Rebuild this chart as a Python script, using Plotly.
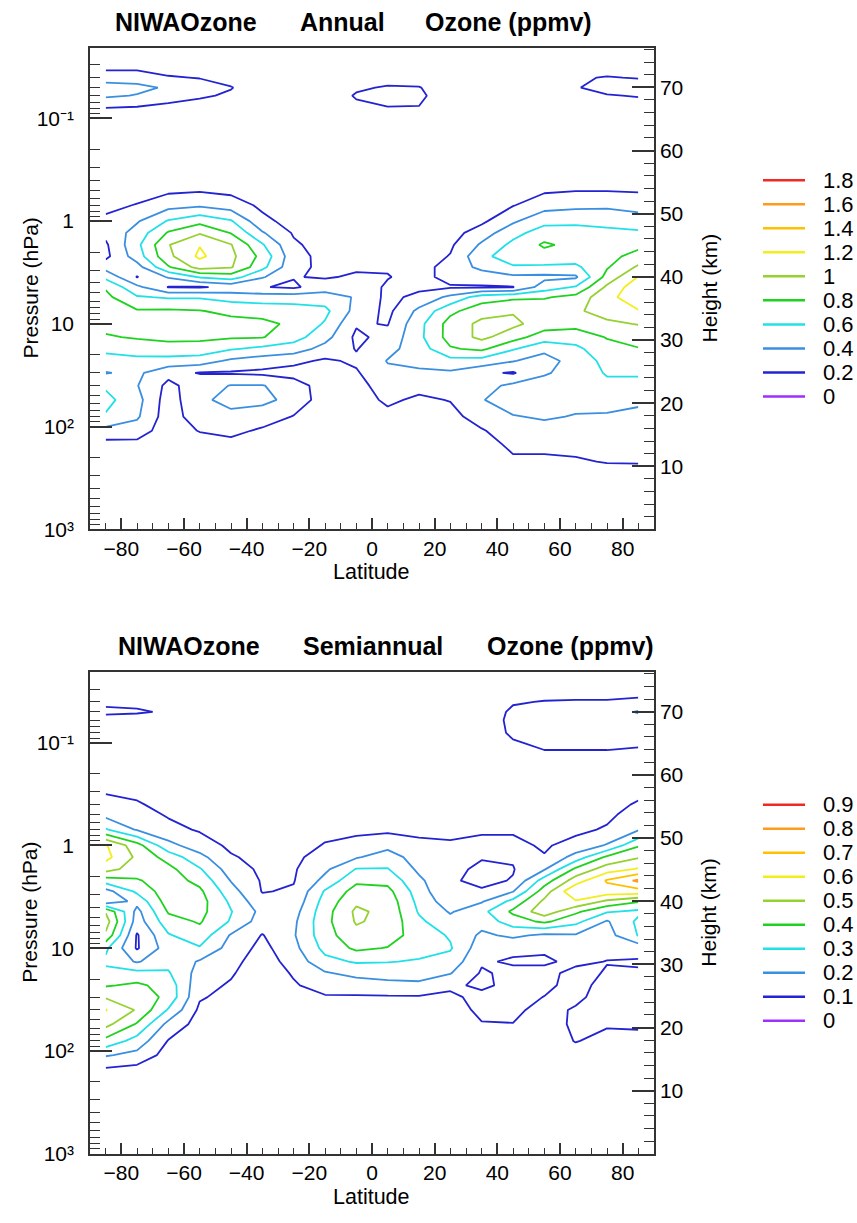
import numpy as np
import plotly.graph_objects as go

# ---------------- data ----------------
LAT = [-85, -75, -65, -55, -45, -35, -25, -15, -5, 5, 15, 25, 35, 45, 55, 65, 75, 85]
# pressure levels (hPa), top of the atmosphere first
PRESSURE = [0.02, 0.03, 0.04, 0.05, 0.06, 0.08, 0.1, 0.15, 0.25, 0.4, 0.5, 0.7, 1, 1.3, 1.7,
            2.2, 2.8, 3.5, 4.4, 5.5, 7.5, 10, 13.5, 17.5, 23, 30, 40, 55, 80, 110, 150, 220,
            300, 500, 1000]

# Annual amplitude (ppmv), one list per latitude, values top -> bottom
ANN_85S = [0.05, 0.1, 0.33, 0.47, 0.43, 0.19, 0.1, 0.06, 0.06, 0.08, 0.1, 0.15, 0.24, 0.25, 0.17, 0.15, 0.32, 0.55, 0.78, 0.85, 0.87, 0.86, 0.78, 0.65, 0.52, 0.39, 0.57, 0.66, 0.58, 0.33, 0.13, 0.07, 0.05, 0.03, 0.02]
ANN_75S = [0.05, 0.1, 0.33, 0.44, 0.39, 0.17, 0.09, 0.06, 0.06, 0.1, 0.12, 0.21, 0.38, 0.48, 0.55, 0.5, 0.32, 0.19, 0.45, 0.62, 0.82, 0.88, 0.82, 0.68, 0.55, 0.44, 0.41, 0.47, 0.43, 0.3, 0.14, 0.07, 0.05, 0.03, 0.02]
ANN_65S = [0.05, 0.08, 0.22, 0.38, 0.3, 0.13, 0.08, 0.06, 0.06, 0.1, 0.16, 0.33, 0.62, 0.82, 0.99, 0.95, 0.78, 0.42, 0.19, 0.58, 0.83, 0.9, 0.85, 0.72, 0.53, 0.26, 0.15, 0.1, 0.09, 0.09, 0.07, 0.05, 0.04, 0.03, 0.02]
ANN_55S = [0.05, 0.07, 0.19, 0.3, 0.23, 0.1, 0.07, 0.06, 0.07, 0.12, 0.18, 0.37, 0.74, 0.98, 1.19, 1.24, 1.08, 0.62, 0.18, 0.58, 0.81, 0.9, 0.84, 0.72, 0.5, 0.19, 0.3, 0.36, 0.32, 0.21, 0.1, 0.06, 0.04, 0.03, 0.02]
ANN_45S = [0.05, 0.06, 0.12, 0.21, 0.17, 0.08, 0.06, 0.06, 0.07, 0.11, 0.15, 0.3, 0.62, 0.79, 1.01, 1.05, 1.02, 0.7, 0.25, 0.52, 0.75, 0.87, 0.82, 0.62, 0.36, 0.18, 0.41, 0.46, 0.35, 0.25, 0.14, 0.07, 0.05, 0.03, 0.02]
ANN_35S = [0.05, 0.05, 0.06, 0.07, 0.07, 0.06, 0.06, 0.06, 0.07, 0.1, 0.12, 0.16, 0.25, 0.42, 0.62, 0.74, 0.66, 0.42, 0.21, 0.5, 0.72, 0.85, 0.81, 0.55, 0.3, 0.16, 0.41, 0.45, 0.3, 0.17, 0.1, 0.06, 0.04, 0.03, 0.02]
ANN_25S = [0.05, 0.05, 0.06, 0.06, 0.06, 0.06, 0.06, 0.06, 0.06, 0.08, 0.09, 0.1, 0.13, 0.18, 0.23, 0.27, 0.25, 0.21, 0.17, 0.5, 0.7, 0.76, 0.68, 0.5, 0.25, 0.12, 0.3, 0.34, 0.19, 0.1, 0.07, 0.05, 0.04, 0.03, 0.02]
ANN_15S = [0.05, 0.05, 0.06, 0.07, 0.07, 0.06, 0.06, 0.05, 0.06, 0.07, 0.07, 0.08, 0.09, 0.1, 0.12, 0.14, 0.16, 0.18, 0.3, 0.5, 0.65, 0.58, 0.47, 0.33, 0.17, 0.12, 0.1, 0.09, 0.08, 0.07, 0.06, 0.05, 0.04, 0.03, 0.02]
ANN_05S = [0.05, 0.06, 0.1, 0.17, 0.22, 0.15, 0.1, 0.07, 0.06, 0.06, 0.07, 0.08, 0.09, 0.1, 0.12, 0.14, 0.17, 0.23, 0.32, 0.38, 0.33, 0.22, 0.16, 0.19, 0.23, 0.18, 0.13, 0.1, 0.08, 0.07, 0.06, 0.05, 0.04, 0.03, 0.02]
ANN_05N = [0.05, 0.07, 0.12, 0.22, 0.26, 0.19, 0.12, 0.08, 0.06, 0.06, 0.07, 0.08, 0.09, 0.1, 0.11, 0.14, 0.18, 0.21, 0.17, 0.15, 0.15, 0.19, 0.26, 0.34, 0.41, 0.36, 0.3, 0.24, 0.14, 0.1, 0.07, 0.06, 0.04, 0.03, 0.02]
ANN_15N = [0.05, 0.06, 0.1, 0.21, 0.24, 0.19, 0.1, 0.07, 0.06, 0.06, 0.06, 0.07, 0.08, 0.09, 0.1, 0.11, 0.12, 0.13, 0.16, 0.25, 0.45, 0.54, 0.55, 0.5, 0.45, 0.37, 0.27, 0.16, 0.1, 0.08, 0.06, 0.05, 0.04, 0.03, 0.02]
ANN_25N = [0.05, 0.05, 0.06, 0.07, 0.08, 0.07, 0.06, 0.05, 0.05, 0.06, 0.06, 0.07, 0.09, 0.12, 0.17, 0.21, 0.28, 0.27, 0.18, 0.45, 0.75, 0.88, 0.88, 0.78, 0.53, 0.37, 0.28, 0.21, 0.13, 0.09, 0.07, 0.06, 0.04, 0.03, 0.02]
ANN_35N = [0.05, 0.05, 0.05, 0.06, 0.06, 0.06, 0.05, 0.05, 0.06, 0.07, 0.08, 0.11, 0.16, 0.3, 0.43, 0.55, 0.45, 0.3, 0.18, 0.7, 0.92, 1.05, 1.05, 0.84, 0.52, 0.24, 0.32, 0.39, 0.3, 0.18, 0.1, 0.07, 0.05, 0.03, 0.02]
ANN_45N = [0.05, 0.05, 0.05, 0.06, 0.06, 0.06, 0.05, 0.06, 0.08, 0.11, 0.14, 0.19, 0.37, 0.53, 0.65, 0.7, 0.58, 0.36, 0.19, 0.76, 0.98, 1.05, 0.88, 0.62, 0.41, 0.18, 0.45, 0.49, 0.39, 0.32, 0.25, 0.16, 0.1, 0.05, 0.03]
ANN_55N = [0.05, 0.05, 0.06, 0.06, 0.06, 0.06, 0.06, 0.07, 0.09, 0.13, 0.17, 0.32, 0.54, 0.7, 0.83, 0.72, 0.57, 0.35, 0.5, 0.78, 0.95, 0.9, 0.7, 0.45, 0.32, 0.38, 0.47, 0.5, 0.42, 0.34, 0.25, 0.16, 0.1, 0.05, 0.03]
ANN_65N = [0.05, 0.06, 0.18, 0.19, 0.15, 0.1, 0.07, 0.08, 0.1, 0.14, 0.19, 0.35, 0.56, 0.68, 0.74, 0.7, 0.56, 0.37, 0.62, 0.86, 0.97, 0.86, 0.7, 0.55, 0.48, 0.47, 0.47, 0.45, 0.39, 0.33, 0.25, 0.18, 0.1, 0.05, 0.03]
ANN_75N = [0.06, 0.1, 0.21, 0.25, 0.19, 0.12, 0.08, 0.07, 0.1, 0.15, 0.19, 0.36, 0.55, 0.64, 0.7, 0.73, 0.78, 0.87, 1.04, 1.15, 1.08, 0.96, 0.81, 0.74, 0.66, 0.62, 0.55, 0.47, 0.38, 0.32, 0.26, 0.21, 0.12, 0.06, 0.03]
ANN_85N = [0.07, 0.12, 0.19, 0.28, 0.21, 0.12, 0.08, 0.07, 0.1, 0.15, 0.18, 0.32, 0.5, 0.63, 0.74, 0.88, 1.03, 1.21, 1.33, 1.3, 1.19, 1.01, 0.88, 0.79, 0.7, 0.63, 0.53, 0.43, 0.36, 0.31, 0.26, 0.21, 0.14, 0.07, 0.03]

# Semiannual amplitude (ppmv)
SEMI_85S = [0.03, 0.05, 0.09, 0.11, 0.08, 0.06, 0.05, 0.05, 0.08, 0.12, 0.17, 0.31, 0.61, 0.63, 0.54, 0.35, 0.16, 0.13, 0.49, 0.55, 0.48, 0.32, 0.28, 0.33, 0.39, 0.49, 0.605, 0.53, 0.37, 0.21, 0.09, 0.05, 0.03, 0.02, 0.02]
SEMI_75S = [0.03, 0.05, 0.09, 0.105, 0.08, 0.06, 0.05, 0.05, 0.06, 0.11, 0.14, 0.19, 0.44, 0.48, 0.45, 0.39, 0.32, 0.23, 0.17, 0.15, 0.09, 0.09, 0.19, 0.33, 0.42, 0.47, 0.49, 0.39, 0.26, 0.17, 0.07, 0.04, 0.03, 0.02, 0.02]
SEMI_65S = [0.03, 0.04, 0.06, 0.095, 0.06, 0.05, 0.05, 0.05, 0.05, 0.07, 0.09, 0.13, 0.23, 0.36, 0.43, 0.45, 0.46, 0.45, 0.41, 0.36, 0.29, 0.25, 0.27, 0.31, 0.36, 0.37, 0.29, 0.17, 0.095, 0.06, 0.04, 0.03, 0.02, 0.02, 0.02]
SEMI_55S = [0.03, 0.03, 0.04, 0.05, 0.05, 0.05, 0.04, 0.04, 0.05, 0.06, 0.07, 0.09, 0.15, 0.23, 0.31, 0.37, 0.42, 0.44, 0.43, 0.41, 0.36, 0.29, 0.19, 0.16, 0.13, 0.11, 0.08, 0.06, 0.05, 0.04, 0.03, 0.03, 0.02, 0.02, 0.02]
SEMI_45S = [0.03, 0.03, 0.03, 0.04, 0.04, 0.04, 0.04, 0.04, 0.04, 0.05, 0.06, 0.07, 0.08, 0.11, 0.15, 0.195, 0.24, 0.28, 0.305, 0.29, 0.19, 0.16, 0.13, 0.11, 0.09, 0.07, 0.05, 0.04, 0.03, 0.03, 0.02, 0.02, 0.02, 0.02, 0.02]
SEMI_35S = [0.03, 0.03, 0.03, 0.03, 0.03, 0.03, 0.03, 0.03, 0.04, 0.04, 0.05, 0.05, 0.06, 0.07, 0.08, 0.09, 0.095, 0.13, 0.17, 0.15, 0.095, 0.07, 0.05, 0.04, 0.04, 0.03, 0.03, 0.03, 0.02, 0.02, 0.02, 0.02, 0.02, 0.02, 0.02]
SEMI_25S = [0.03, 0.03, 0.03, 0.03, 0.03, 0.03, 0.03, 0.03, 0.03, 0.04, 0.05, 0.06, 0.07, 0.08, 0.09, 0.095, 0.11, 0.13, 0.16, 0.18, 0.19, 0.17, 0.14, 0.11, 0.09, 0.07, 0.05, 0.04, 0.03, 0.02, 0.02, 0.02, 0.02, 0.02, 0.02]
SEMI_15S = [0.03, 0.03, 0.03, 0.03, 0.03, 0.03, 0.03, 0.03, 0.04, 0.05, 0.06, 0.08, 0.105, 0.14, 0.18, 0.23, 0.31, 0.34, 0.36, 0.37, 0.36, 0.33, 0.27, 0.19, 0.14, 0.09, 0.06, 0.04, 0.03, 0.02, 0.02, 0.02, 0.02, 0.02, 0.02]
SEMI_05S = [0.03, 0.03, 0.03, 0.03, 0.03, 0.03, 0.03, 0.03, 0.04, 0.05, 0.06, 0.08, 0.13, 0.19, 0.305, 0.38, 0.44, 0.48, 0.52, 0.51, 0.47, 0.42, 0.31, 0.23, 0.15, 0.09, 0.06, 0.04, 0.03, 0.02, 0.02, 0.02, 0.02, 0.02, 0.02]
SEMI_05N = [0.03, 0.03, 0.03, 0.03, 0.03, 0.03, 0.03, 0.03, 0.04, 0.05, 0.06, 0.08, 0.17, 0.25, 0.305, 0.37, 0.43, 0.46, 0.47, 0.47, 0.45, 0.395, 0.305, 0.24, 0.17, 0.09, 0.06, 0.04, 0.03, 0.02, 0.02, 0.02, 0.02, 0.02, 0.02]
SEMI_15N = [0.03, 0.03, 0.03, 0.03, 0.03, 0.03, 0.03, 0.03, 0.04, 0.05, 0.06, 0.08, 0.12, 0.15, 0.18, 0.22, 0.25, 0.27, 0.29, 0.32, 0.35, 0.34, 0.29, 0.24, 0.18, 0.09, 0.06, 0.04, 0.03, 0.02, 0.02, 0.02, 0.02, 0.02, 0.02]
SEMI_25N = [0.03, 0.03, 0.03, 0.03, 0.03, 0.03, 0.03, 0.03, 0.03, 0.05, 0.06, 0.08, 0.11, 0.13, 0.12, 0.11, 0.101, 0.14, 0.19, 0.23, 0.29, 0.31, 0.26, 0.205, 0.12, 0.08, 0.06, 0.04, 0.03, 0.02, 0.02, 0.02, 0.02, 0.02, 0.02]
SEMI_35N = [0.03, 0.03, 0.03, 0.03, 0.03, 0.03, 0.03, 0.04, 0.05, 0.07, 0.08, 0.095, 0.11, 0.105, 0.085, 0.08, 0.11, 0.19, 0.27, 0.24, 0.18, 0.14, 0.11, 0.09, 0.08, 0.13, 0.12, 0.095, 0.06, 0.04, 0.03, 0.02, 0.02, 0.02, 0.02]
SEMI_45N = [0.03, 0.04, 0.09, 0.12, 0.13, 0.12, 0.09, 0.06, 0.05, 0.06, 0.07, 0.09, 0.12, 0.11, 0.095, 0.105, 0.195, 0.33, 0.42, 0.35, 0.22, 0.12, 0.09, 0.12, 0.13, 0.13, 0.12, 0.098, 0.06, 0.04, 0.03, 0.02, 0.02, 0.02, 0.02]
SEMI_55N = [0.03, 0.05, 0.105, 0.14, 0.14, 0.13, 0.12, 0.07, 0.05, 0.06, 0.07, 0.08, 0.09, 0.105, 0.19, 0.35, 0.45, 0.52, 0.56, 0.42, 0.18, 0.11, 0.09, 0.12, 0.12, 0.098, 0.07, 0.05, 0.04, 0.03, 0.03, 0.02, 0.02, 0.02, 0.02]
SEMI_65N = [0.03, 0.05, 0.11, 0.14, 0.14, 0.13, 0.12, 0.07, 0.05, 0.06, 0.07, 0.08, 0.13, 0.24, 0.42, 0.55, 0.69, 0.59, 0.42, 0.33, 0.19, 0.14, 0.115, 0.08, 0.07, 0.08, 0.11, 0.12, 0.105, 0.06, 0.04, 0.03, 0.02, 0.02, 0.02]
SEMI_75N = [0.03, 0.05, 0.11, 0.14, 0.15, 0.14, 0.12, 0.07, 0.05, 0.07, 0.08, 0.11, 0.21, 0.42, 0.55, 0.71, 0.66, 0.48, 0.31, 0.19, 0.16, 0.12, 0.098, 0.105, 0.13, 0.14, 0.13, 0.11, 0.07, 0.05, 0.04, 0.03, 0.02, 0.02, 0.02]
SEMI_85N = [0.04, 0.06, 0.12, 0.21, 0.16, 0.13, 0.11, 0.07, 0.06, 0.11, 0.14, 0.19, 0.39, 0.49, 0.61, 0.82, 0.66, 0.41, 0.28, 0.32, 0.305, 0.14, 0.09, 0.11, 0.13, 0.13, 0.12, 0.11, 0.08, 0.05, 0.04, 0.03, 0.02, 0.02, 0.02]

ANNUAL = [ANN_85S, ANN_75S, ANN_65S, ANN_55S, ANN_45S, ANN_35S, ANN_25S, ANN_15S, ANN_05S,
          ANN_05N, ANN_15N, ANN_25N, ANN_35N, ANN_45N, ANN_55N, ANN_65N, ANN_75N, ANN_85N]
SEMIANNUAL = [SEMI_85S, SEMI_75S, SEMI_65S, SEMI_55S, SEMI_45S, SEMI_35S, SEMI_25S, SEMI_15S, SEMI_05S,
              SEMI_05N, SEMI_15N, SEMI_25N, SEMI_35N, SEMI_45N, SEMI_55N, SEMI_65N, SEMI_75N, SEMI_85N]

ANN_LEVELS = ["1.8", "1.6", "1.4", "1.2", "1", "0.8", "0.6", "0.4", "0.2", "0"]
SEMI_LEVELS = ["0.9", "0.8", "0.7", "0.6", "0.5", "0.4", "0.3", "0.2", "0.1", "0"]
# colour of each contour level, lowest level first
LEVEL_COLORS = ["#9b30ff", "#2323d2", "#3b8fe0", "#22e0e8", "#1fd21f",
                "#95d130", "#f2ee1c", "#ffc000", "#ff9a1a", "#ee2a22"]

PRESS_TICKS = [1000, 100, 10, 1, 0.1]
PRESS_TEXT = ["10\u00b3", "10\u00b2", "10", "1", "10\u207b\u00b9"]
HEIGHT_TICKS = [10, 20, 30, 40, 50, 60, 70]
LAT_TICKS = [-80, -60, -40, -20, 0, 20, 40, 60, 80]

# ---------------- figure ----------------
W, H = 857, 1223
FONT = "Liberation Sans, Arial, Helvetica, sans-serif"
AX = "#333333"


def px(x):
    return x / W


def py(y):
    return 1 - y / H


n = len(LEVEL_COLORS)
cscale = [[k / (n - 1), c] for k, c in enumerate(LEVEL_COLORS)]

fig = go.Figure()
panels = [
    dict(z=ANNUAL, end=1.8, size=0.2, xa="x", ya="y", ya2="y2"),
    dict(z=SEMIANNUAL, end=0.9, size=0.1, xa="x2", ya="y3", ya2="y4"),
]
for p in panels:
    z = np.array(p["z"]).T
    fig.add_trace(go.Contour(
        x=LAT, y=PRESSURE, z=z, xaxis=p["xa"], yaxis=p["ya"],
        autocontour=False,
        contours=dict(start=0, end=p["end"], size=p["size"], coloring="lines", showlabels=False),
        colorscale=cscale, showscale=False,
        line=dict(width=1.8, smoothing=0), hoverinfo="skip"))
    fig.add_trace(go.Scatter(x=[], y=[], xaxis=p["xa"], yaxis=p["ya2"], showlegend=False,
                             hoverinfo="skip"))

XDOM = [px(90), px(654)]
minor_p = [m * 10.0 ** e for e in range(-2, 3) for m in range(2, 10)]
minor_p = [v for v in minor_p if 0.02 <= v <= 1000]

common_x = dict(domain=XDOM, range=[-90, 90], tickvals=LAT_TICKS, ticks="inside", ticklen=11,
                tickwidth=1.5, tickcolor=AX, showline=True, linecolor=AX, linewidth=1.5,
                mirror=True, showgrid=False, zeroline=False,
                tickfont=dict(size=21, color="black", family=FONT),
                minor=dict(dtick=5, tick0=0, ticks="inside", ticklen=6, tickwidth=1.2, tickcolor=AX))
common_p = dict(type="log", range=[3, np.log10(0.0204)], autorange=False, tickvals=PRESS_TICKS,
                ticktext=PRESS_TEXT, ticks="inside", ticklen=22, tickwidth=1.5, tickcolor=AX,
                showline=True, linecolor=AX, linewidth=1.5, showgrid=False, zeroline=False,
                ticklabelstandoff=10,
                tickfont=dict(size=21, color="black", family=FONT),
                minor=dict(tickvals=minor_p, ticks="inside", ticklen=10, tickwidth=1.2, tickcolor=AX))
common_h = dict(range=[0.05, 76.3], autorange=False, tickvals=HEIGHT_TICKS, ticks="inside",
                ticklen=22, tickwidth=1.5, tickcolor=AX, showline=True, linecolor=AX,
                linewidth=1.5, showgrid=False, zeroline=False, side="right",
                tickfont=dict(size=21, color="black", family=FONT),
                minor=dict(dtick=2, tick0=0, ticks="inside", ticklen=10, tickwidth=1.2, tickcolor=AX))

fig.update_layout(
    width=W, height=H, margin=dict(l=0, r=0, t=0, b=0),
    paper_bgcolor="white", plot_bgcolor="white", showlegend=False,
    font=dict(family=FONT, color="black"),
    xaxis=dict(anchor="y", **common_x),
    yaxis=dict(anchor="x", domain=[py(534), py(48)], **common_p),
    yaxis2=dict(anchor="x", overlaying="y", **common_h),
    xaxis2=dict(anchor="y3", **common_x),
    yaxis3=dict(anchor="x2", domain=[py(1164), py(678)], **common_p),
    yaxis4=dict(anchor="x2", overlaying="y3", **common_h),
)

ann = []
shapes = []
titles = [
    (22, [(113, "NIWAOzone"), (298, "Annual"), (423, "Ozone (ppmv)")]),
    (652, [(116, "NIWAOzone"), (301, "Semiannual"), (485, "Ozone (ppmv)")]),
]
for yy, parts in titles:
    for xx, txt in parts:
        ann.append(dict(x=px(xx), y=py(yy), xref="paper", yref="paper", text="<b>%s</b>" % txt,
                        showarrow=False, xanchor="left", yanchor="middle",
                        font=dict(size=25, family=FONT, color="black")))

for off, levels in [(0, ANN_LEVELS), (630, SEMI_LEVELS)]:
    mid = 291 + off
    ann.append(dict(x=px(30), y=py(mid), xref="paper", yref="paper", text="Pressure (hPa)",
                    textangle=-90, showarrow=False, xanchor="center", yanchor="middle",
                    font=dict(size=21, family=FONT)))
    ann.append(dict(x=px(709), y=py(mid), xref="paper", yref="paper", text="Height (km)",
                    textangle=-90, showarrow=False, xanchor="center", yanchor="middle",
                    font=dict(size=21, family=FONT)))
    ann.append(dict(x=px(371), y=py(577.5 + off), xref="paper", yref="paper", text="Latitude",
                    showarrow=False, xanchor="center", yanchor="middle",
                    font=dict(size=21.5, family=FONT)))
    for k, lab in enumerate(levels):
        yk = 182 + off + 24.22 * k
        col = LEVEL_COLORS[len(levels) - 1 - k]
        shapes.append(dict(type="line", xref="paper", yref="paper", x0=px(763), x1=px(805),
                           y0=py(yk), y1=py(yk), line=dict(color=col, width=2.5)))
        ann.append(dict(x=px(821), y=py(yk), xref="paper", yref="paper", text=lab,
                        showarrow=False, xanchor="left", yanchor="middle",
                        font=dict(size=22, family=FONT)))

fig.update_layout(annotations=ann, shapes=shapes)
fig.write_html("out.html")
